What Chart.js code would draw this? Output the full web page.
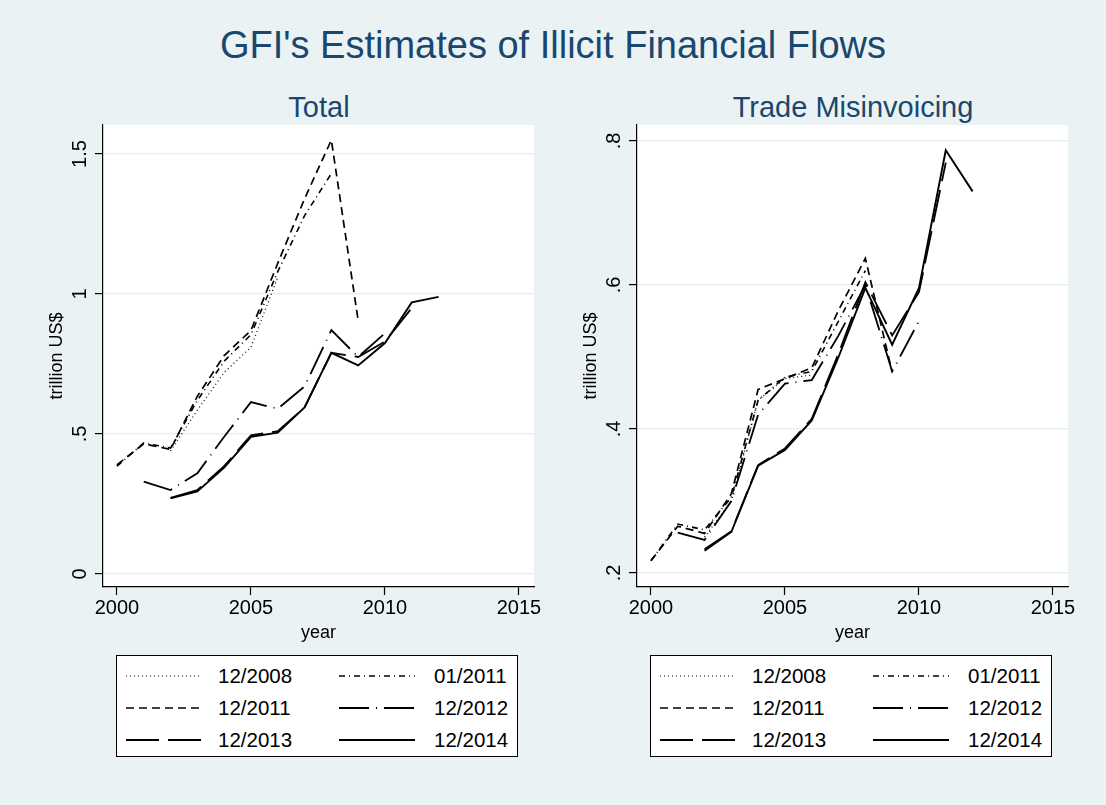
<!DOCTYPE html>
<html>
<head>
<meta charset="utf-8">
<script src="https://cdn.jsdelivr.net/npm/chart.js@4.4.0/dist/chart.umd.min.js"></script>
<style>
  body { margin: 0; background: #eaf2f3; }
  #page { position: relative; width: 1106px; height: 805px; background: #eaf2f3; overflow: hidden;
          font-family: "Liberation Sans", Arial, sans-serif; }
  .t { position: absolute; white-space: nowrap; transform: translate(-50%, -50%); color: #1a476f; }
  canvas.c { position: absolute; top: 0; }
  .leg { position: absolute; top: 655px; width: 402px; height: 102px; background: #fff;
         border: 1px solid #000; box-sizing: border-box; }
  .leg canvas { position: absolute; }
  .leg span { position: absolute; font-size: 20.5px; color: #000; transform: translateY(-50%); white-space: nowrap; }
</style>
</head>
<body>
<div id="page">
  <div class="t" style="left:553px;top:45px;font-size:38px;">GFI's Estimates of Illicit Financial Flows</div>
  <div class="t" style="left:319px;top:107px;font-size:29px;">Total</div>
  <div class="t" style="left:853px;top:107px;font-size:29px;">Trade Misinvoicing</div>
  <canvas class="c" id="totalChart" width="553" height="650" style="left:0px;"></canvas>
  <canvas class="c" id="tradeChart" width="553" height="650" style="left:553px;"></canvas>
  <div class="leg" id="legTotal" style="left:116px;"></div>
  <div class="leg" id="legTrade" style="left:650px;"></div>
</div>
<script>
const years = [2000, 2001, 2002, 2003, 2004, 2005, 2006, 2007, 2008, 2009, 2010, 2011, 2012];
const seriesNames = ['12/2008', '01/2011', '12/2011', '12/2012', '12/2013', '12/2014'];

// Total illicit flows, trillion US$
const total1208 = [null, null, 0.44, 0.585, 0.72, 0.81, 1.06, null, null, null, null, null, null];
const total0111 = [0.385, 0.468, 0.45, 0.62, 0.76, 0.855, 1.08, 1.28, 1.43, null, null, null, null];
const total1211 = [0.39, 0.465, 0.445, 0.635, 0.78, 0.87, 1.11, 1.34, 1.55, 0.905, null, null, null];
const total1212 = [null, 0.33, 0.30, 0.36, 0.49, 0.614, 0.59, 0.67, 0.871, 0.775, 0.86, null, null];
const total1213 = [null, null, 0.272, 0.30, 0.385, 0.495, 0.51, 0.595, 0.79, 0.775, 0.83, 0.95, null];
const total1214 = [null, null, 0.27, 0.295, 0.38, 0.49, 0.505, 0.595, 0.79, 0.745, 0.825, 0.97, 0.99];

// Trade misinvoicing, trillion US$
const trade1208 = [null, null, 0.25, 0.30, 0.44, 0.47, 0.475, null, null, null, null, null, null];
const trade0111 = [0.217, 0.268, 0.26, 0.305, 0.44, 0.472, 0.48, 0.55, 0.62, null, null, null, null];
const trade1211 = [0.217, 0.265, 0.255, 0.31, 0.455, 0.47, 0.485, 0.565, 0.637, 0.479, null, null, null];
const trade1212 = [null, 0.256, 0.246, 0.30, 0.42, 0.463, 0.468, 0.53, 0.60, 0.48, 0.55, null, null];
const trade1213 = [null, null, 0.233, 0.258, 0.35, 0.373, 0.414, 0.505, 0.604, 0.53, 0.59, 0.77, null];
const trade1214 = [null, null, 0.231, 0.257, 0.349, 0.371, 0.412, 0.5, 0.596, 0.517, 0.596, 0.787, 0.73];

const xTicks = [2000, 2005, 2010, 2015];
const totalTicks = [0, 0.5, 1, 1.5];
const totalTickLabels = ['0', '.5', '1', '1.5'];
const tradeTicks = [0.2, 0.4, 0.6, 0.8];
const tradeTickLabels = ['.2', '.4', '.6', '.8'];

// line patterns per series (same order as seriesNames)
const dashes = [[1, 3], [6, 4, 1, 4], [8, 5], [30, 7, 1, 7], [33, 9], []];
const widths = [1.2, 1.6, 1.7, 1.8, 1.8, 1.9];

Chart.defaults.font.family = '"Liberation Sans", Arial, sans-serif';
Chart.defaults.color = '#000';

const tickFont = { family: '"Liberation Sans", Arial, sans-serif', size: 20 };
const axisTitleFont = { family: '"Liberation Sans", Arial, sans-serif', size: 18 };

const plotBg = {
  id: 'plotBg',
  beforeDraw(chart) {
    const { ctx, chartArea: a } = chart;
    ctx.save();
    ctx.fillStyle = '#fff';
    ctx.fillRect(a.left, a.top, a.right - a.left, a.bottom - a.top);
    ctx.restore();
  }
};

function makeChart(id, values, yMin, yMax, yTicks, yLabels, yWidth, padRight, tickPad, titlePad) {
  const datasets = values.map((vals, i) => ({
    label: seriesNames[i],
    data: years.map((yr, j) => ({ x: yr, y: vals[j] })),
    borderColor: '#000',
    borderWidth: widths[i],
    borderDash: dashes[i],
    pointRadius: 0,
    fill: false,
    tension: 0,
    spanGaps: false
  }));
  return new Chart(document.getElementById(id), {
    type: 'line',
    data: { datasets: datasets },
    options: {
      responsive: false,
      animation: false,
      layout: { autoPadding: false, padding: { left: 0, right: padRight, top: 125, bottom: 0 } },
      plugins: { legend: { display: false }, tooltip: { enabled: false } },
      scales: {
        x: {
          type: 'linear',
          min: 1999.48,
          max: 2015.56,
          afterBuildTicks: s => { s.ticks = xTicks.map(v => ({ value: v })); },
          afterFit: s => { s.height = 63; },
          ticks: { font: tickFont, padding: 1, maxRotation: 0, autoSkip: false, callback: v => String(v) },
          grid: { drawOnChartArea: false, tickColor: '#000', tickLength: 8, tickWidth: 1.2 },
          border: { color: '#000', width: 1.2 },
          title: { display: true, text: 'year', font: axisTitleFont, padding: { top: 0, bottom: 6 } }
        },
        y: {
          type: 'linear',
          min: yMin,
          max: yMax,
          afterBuildTicks: s => { s.ticks = yTicks.map(v => ({ value: v })); },
          afterFit: s => { s.width = yWidth; },
          ticks: {
            font: tickFont, minRotation: 90, maxRotation: 90, crossAlign: 'center', padding: tickPad, autoSkip: false,
            callback: v => yLabels[yTicks.findIndex(t => Math.abs(t - v) < 1e-9)]
          },
          grid: { color: '#e3ecef', lineWidth: 1.2, tickColor: '#000', tickLength: 8, tickWidth: 1.2 },
          border: { color: '#000', width: 1.2 },
          title: { display: true, text: 'trillion US$', font: axisTitleFont, padding: { top: titlePad, bottom: 0 } }
        }
      }
    },
    plugins: [plotBg]
  });
}

makeChart('totalChart', [total1208, total0111, total1211, total1212, total1213, total1214],
  -0.0464, 1.6036, totalTicks, totalTickLabels, 103, 19, 1, 46);
makeChart('tradeChart', [trade1208, trade0111, trade1211, trade1212, trade1213, trade1214],
  0.1806, 0.8222, tradeTicks, tradeTickLabels, 84, 38, 6, 27);

function buildLegend(id) {
  const box = document.getElementById(id);
  const rowY = [20, 52, 84];
  const sampleX = [9, 222];
  const textX = [101, 317];
  seriesNames.forEach((name, i) => {
    const row = Math.floor(i / 2), col = i % 2;
    const cv = document.createElement('canvas');
    cv.width = 76; cv.height = 10;
    cv.style.left = sampleX[col] + 'px';
    cv.style.top = (rowY[row] - 5) + 'px';
    const ctx = cv.getContext('2d');
    ctx.strokeStyle = '#000';
    ctx.lineWidth = widths[i];
    ctx.setLineDash(dashes[i]);
    ctx.beginPath();
    ctx.moveTo(0, 5);
    ctx.lineTo(76, 5);
    ctx.stroke();
    box.appendChild(cv);
    const sp = document.createElement('span');
    sp.textContent = name;
    sp.style.left = textX[col] + 'px';
    sp.style.top = rowY[row] + 'px';
    box.appendChild(sp);
  });
}
buildLegend('legTotal');
buildLegend('legTrade');
</script>
</body>
</html>
